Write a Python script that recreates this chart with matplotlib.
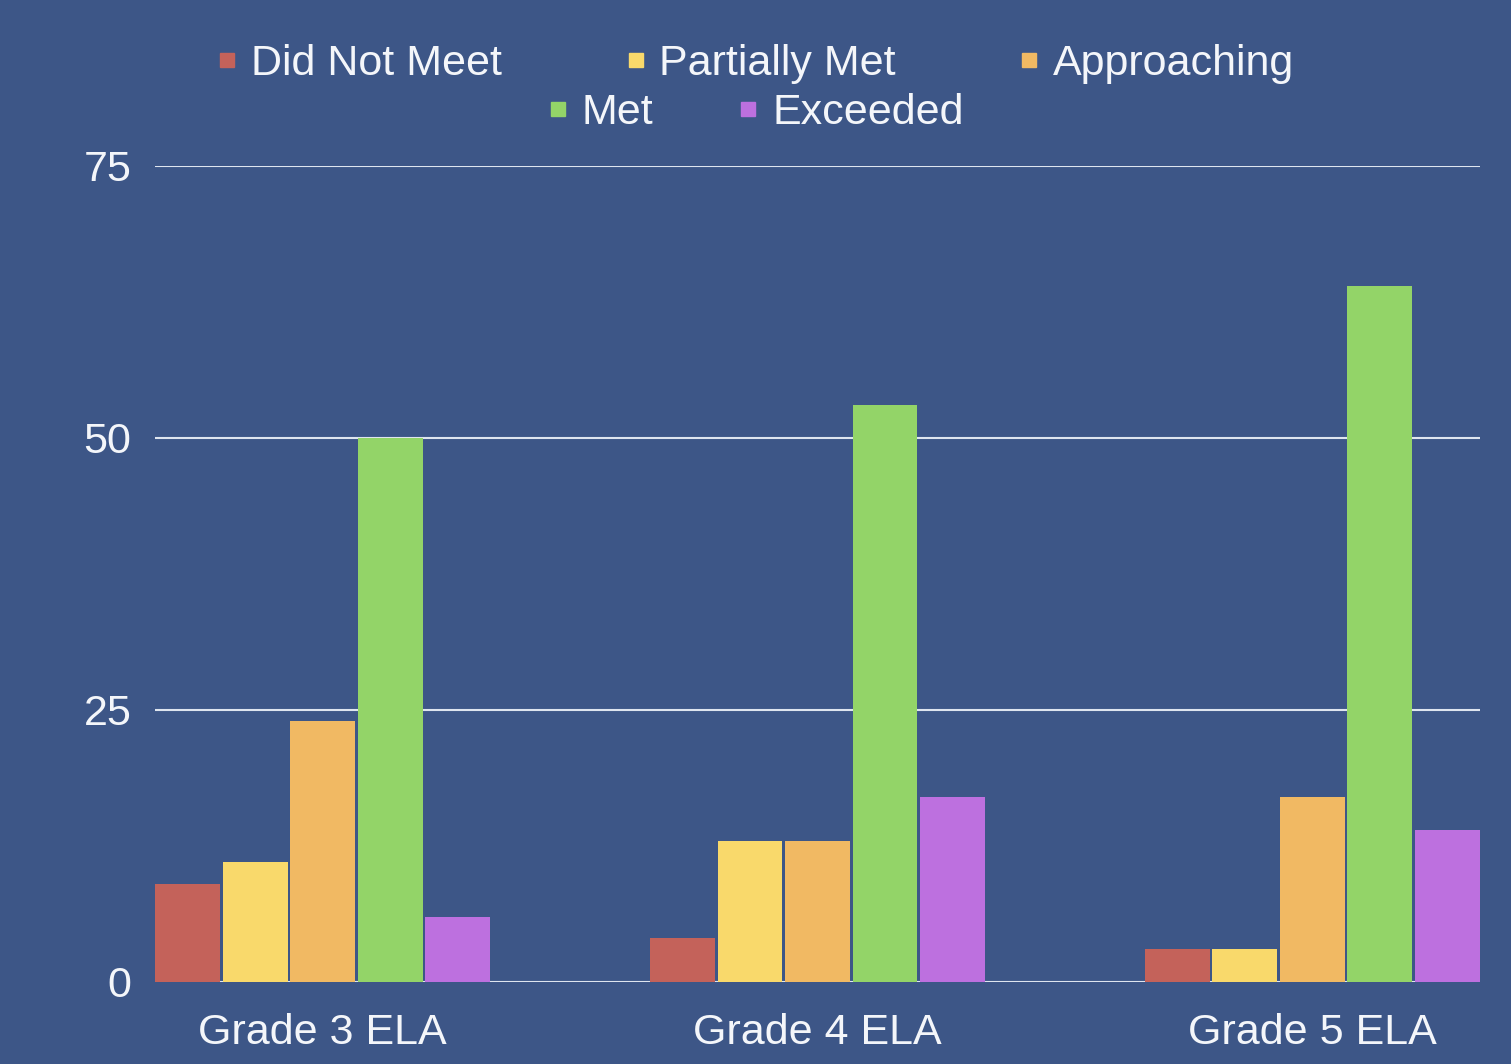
import numpy as np
from matplotlib import pyplot as plt
from matplotlib.lines import Line2D

grades = ['Grade 3 ELA', 'Grade 4 ELA', 'Grade 5 ELA']
levels = ['Did Not Meet', 'Partially Met', 'Approaching', 'Met', 'Exceeded']
did_not_meet = [9, 4, 3]
partially_met = [11, 13, 3]
approaching = [24, 13, 17]
met = [50, 53, 64]
exceeded = [6, 17, 14]
y_ticks = [0, 25, 50, 75]

colors = ['#c4625a', '#f9d96b', '#f1b963', '#93d468', '#bd70df']
bg = '#3d5687'
fg = '#f4f6fa'

plt.rcParams['font.family'] = ['Liberation Sans', 'DejaVu Sans']

fig = plt.figure(figsize=(15.11, 10.64), dpi=100, facecolor=bg)
ax = fig.add_axes([0.1026, 0.0771, 0.8769, 0.7669], facecolor=bg)

series = [did_not_meet, partially_met, approaching, met, exceeded]
x = np.arange(len(grades))
pitch = 0.1365
width = 0.131
for i, (vals, c) in enumerate(zip(series, colors)):
    ax.bar(x + (i - 2) * pitch, vals, width, color=c, zorder=3)

ax.set_xlim(-0.339, 2.339)
ax.set_ylim(0, 75)
ax.set_yticks(y_ticks)
ax.set_xticks(x)
ax.set_xticklabels(grades)
ax.tick_params(axis='both', length=0, colors=fg, labelsize=31)
ax.tick_params(axis='y', pad=17)
ax.tick_params(axis='x', pad=22)
ax.grid(axis='y', color='#dfe5ef', linewidth=1.5, zorder=1)
for s in ax.spines.values():
    s.set_visible(False)

handles = [Line2D([], [], marker='s', linestyle='', color=c, markersize=9.5) for c in colors]
leg_kw = dict(frameon=False, fontsize=31, handlelength=0.5, handletextpad=0.3,
              labelcolor=fg, borderpad=0, borderaxespad=0)
leg1 = fig.legend(handles[:3], levels[:3], loc='center', ncol=3,
                  bbox_to_anchor=(0.5, 1 - 64 / 1064), columnspacing=2.85, **leg_kw)
leg2 = fig.legend(handles[3:], levels[3:], loc='center', ncol=2,
                  bbox_to_anchor=(0.5, 1 - 113 / 1064), columnspacing=1.95, **leg_kw)

fig.savefig('out.png', dpi=100, facecolor=bg)
